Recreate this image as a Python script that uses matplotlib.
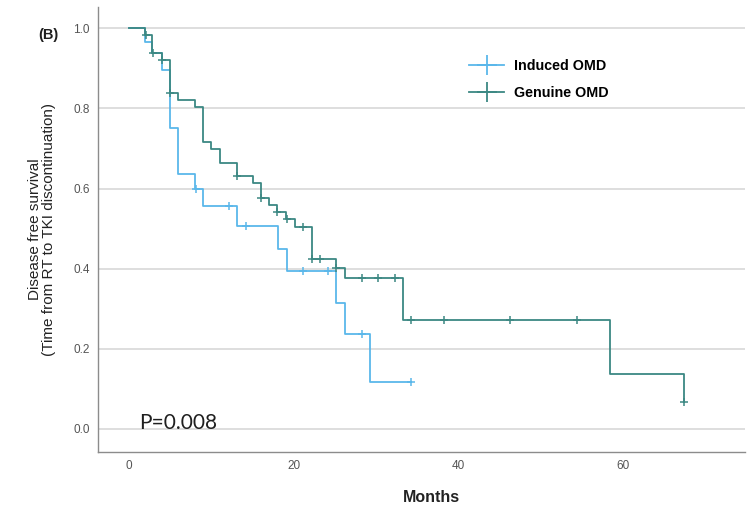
import numpy as np
import matplotlib
matplotlib.use('Agg')
import matplotlib.pyplot as plt
from matplotlib.lines import Line2D

# Kaplan-Meier steps (months, survival after each drop)
induced_t = [0, 1.94, 2.75, 3.97, 5.0, 6.0, 8.0, 9.0, 13.1, 18.1, 19.2, 25.15, 26.2, 29.3, 34.3]
induced_s = [1.0, 0.967, 0.9375, 0.896, 0.75, 0.636, 0.598, 0.556, 0.506, 0.45, 0.394, 0.314, 0.2375, 0.118, 0.118]
induced_cens = [8.1, 12.2, 14.2, 21.2, 24.2, 28.3, 34.3]

genuine_t = [0, 1.94, 2.75, 3.97, 5.0, 6.0, 8.0, 9.0, 10.0, 11.1, 13.1, 15.1, 16.0, 17.0,
             18.0, 19.1, 20.2, 22.2, 25.15, 26.2, 33.3, 58.4, 67.4]
genuine_s = [1.0, 0.983, 0.9375, 0.92, 0.8375, 0.82, 0.8025, 0.7166, 0.698, 0.665, 0.631, 0.6145,
             0.5775, 0.56, 0.5417, 0.523, 0.504, 0.423, 0.4025, 0.3767, 0.2725, 0.136, 0.0667]
genuine_cens = [2.1, 2.9, 3.97, 5.0, 13.1, 16.1, 18.0, 19.2, 21.2, 22.2, 23.2, 25.2, 28.3, 30.3,
                32.3, 34.3, 38.3, 46.3, 54.4, 67.4]

labels = ['Induced OMD', 'Genuine OMD']
colors = ['#5AB7EA', '#3C8883']

x_ticks = [0, 20, 40, 60]
y_ticks = [0.0, 0.2, 0.4, 0.6, 0.8, 1.0]

plt.rcParams['font.family'] = ['Liberation Sans', 'DejaVu Sans']

fig = plt.figure(figsize=(7.56, 5.05), dpi=100)
ax = fig.add_axes([0.1296, 0.105, 0.8558, 0.881])


def surv_at(t, s, c):
    t = np.asarray(t)
    s = np.asarray(s)
    idx = np.searchsorted(t, c, side='right') - 1
    return s[idx]


groups = [(induced_t, induced_s, induced_cens), (genuine_t, genuine_s, genuine_cens)]
for (t, s, cens), col in zip(groups, colors):
    ax.step(t, s, where='post', color=col, lw=1.3, zorder=3)
    ax.plot(cens, surv_at(t, s, cens), ls='none', marker='+', ms=6, mew=1.1, color=col, zorder=4)

ax.set_xlim(-3.77, 74.85)
ax.set_ylim(-0.0575, 1.053)
ax.set_xticks(x_ticks)
ax.set_xticklabels([str(v) for v in x_ticks])
ax.set_yticks(y_ticks)
ax.set_yticklabels(['%.1f' % v for v in y_ticks])
ax.tick_params(length=0, labelsize=8.5, labelcolor='#555555', pad=6)
ax.yaxis.grid(True, color='#D8D8D8', lw=1.2)
ax.set_axisbelow(True)
for side in ['top', 'right']:
    ax.spines[side].set_visible(False)
for side in ['left', 'bottom']:
    ax.spines[side].set_color('#8C8C8C')
    ax.spines[side].set_linewidth(1.0)

ax.set_xlabel('Months', fontsize=11.5, fontweight='bold', color='#222222', labelpad=14)
ax.xaxis.set_label_coords(0.516, -0.085)
ax.set_ylabel('Disease free survival\n(Time from RT to TKI discontinuation)', fontsize=11,
              color='#222222', labelpad=12, linespacing=1.0)

fig.text(0.050, 0.922, '(B)', fontsize=10.5, fontweight='bold', color='#1F1F1F')
ax.text(1.2, 0.0, 'P=0.008', fontsize=15, family=['Lato', 'DejaVu Sans'], color='#1F1F1F',
        va='baseline', ha='left')

handles = [Line2D([0], [0], color=c, lw=1.3, marker='+', ms=15, mew=1.3) for c in colors]
leg = ax.legend(handles, labels, loc='upper left', bbox_to_anchor=(0.553, 0.913), frameon=False,
                handlelength=2.5, handletextpad=0.7, labelspacing=0.95,
                prop={'weight': 'bold', 'size': 10.3})

fig.savefig('out.png', dpi=100)
